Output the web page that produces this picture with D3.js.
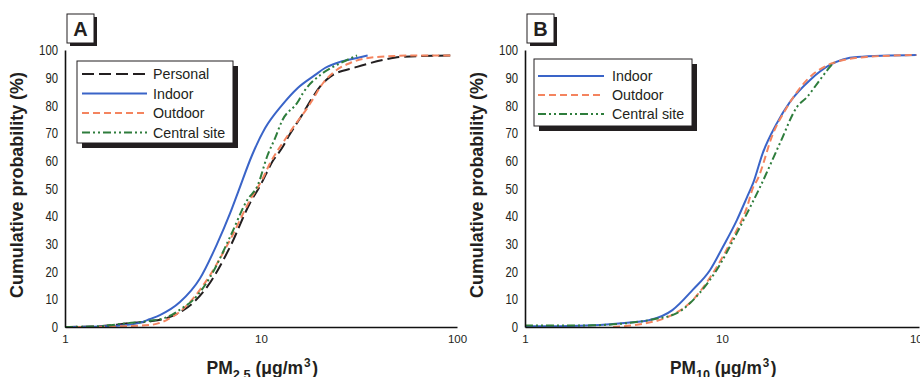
<!DOCTYPE html>
<html><head><meta charset="utf-8">
<script src="https://cdn.jsdelivr.net/npm/d3@7"></script>
<style>
body{margin:0;background:#fff;}
svg{display:block;}
text{font-family:"Liberation Sans",Arial,sans-serif;}
</style></head>
<body><svg id="chart" width="920" height="377"></svg>
<script>
// ---- Data ----
const yTicks = [0,10,20,30,40,50,60,70,80,90,100];
const xTicks = [1,10,100];

// Panel A: PM2.5
const personalA_x = [1,1.5,2.15,2.7,3.3,4.0,4.5,5.3,6.95,8.79,9.9,11.5,12.8,14,16.2,18,20.4,22.5,30.9,41.9,51,95];
const personalA_y = [0,0.3,1.4,2,3.2,6,8.7,14.4,28.9,44.8,51,60,64.6,69.5,76.5,82,87.5,90.3,93.9,96.4,97.5,98];
const indoorA_x = [1,1.5,1.9,2.4,2.7,3.05,3.86,4.88,5.97,6.95,7.64,9.0,10.5,12.8,15.4,18.9,21.2,25.3,30.9,35];
const indoorA_y = [0,0.2,0.5,1.5,2.8,4.3,9,17.5,30,41,48.7,62,71.8,80.1,86.3,91,93.5,95.7,97.1,98];
const outdoorA_x = [1,1.5,2,2.7,3.3,4.0,5.3,6.95,8.79,10.1,11.1,13.5,14.4,17.2,18.3,20.7,24,28.5,39,60,95];
const outdoorA_y = [0,0.1,0.3,0.7,2.5,6.5,17,31.4,45.8,53,59,68.5,71.5,79,82,88,92.5,95.3,97.5,98,98];
const centralA_x = [1,1.5,2.1,2.7,3.3,4.0,4.5,5.5,6.95,8.5,9.6,10.8,11.8,12.8,15.4,16.4,20.7,25,30.9];
const centralA_y = [0,0.3,1.4,2.2,3.5,7,9.7,18,32.5,45.8,51,62,68.2,74.4,81.2,84.5,91.7,95,98];

// Panel B: PM10
const indoorB_x = [1,1.5,2.4,3.3,4.3,5.6,7.1,8.7,10.1,11.9,13.4,14.4,16.1,19,22.1,28,35.3,48.4,97];
const indoorB_y = [0.3,0.3,0.7,1.5,2.5,6.1,13.4,20.6,28.9,38.6,46.9,52,62.8,73.6,81.2,89.2,94.6,97.5,98.2];
const outdoorB_x = [2.8,4.0,5.3,7.1,9.0,11.4,13.4,14.4,15.1,18.2,21.4,27,36.6,54,97];
const outdoorB_y = [0,1.2,3.6,9.7,19.5,32.5,43.3,50.5,53.1,70,79.4,89.2,95.3,97.5,98.2];
const centralB_x = [1,1.5,2.2,3.3,4.5,5.9,7.7,9.4,11.9,13.9,15.6,19.7,24,27,31.4,35.3,37];
const centralB_y = [0.5,0.5,0.6,1.4,2.8,5,12.3,20.6,33.9,43.3,50.5,66.4,79.4,83,89.2,93.9,95.5];

const styles = {
  Personal: {color:"#231f20", dash:"12,5"},
  Indoor: {color:"#3a64c8", dash:null},
  Outdoor: {color:"#f4845f", dash:"7,4"},
  "Central site": {color:"#2e7d3c", dash:"8,3,2,3,2,3"}
};

const panels = [
  {label:"A", x0:65, x1:457, series:[
    ["Personal", personalA_x, personalA_y],
    ["Indoor", indoorA_x, indoorA_y],
    ["Outdoor", outdoorA_x, outdoorA_y],
    ["Central site", centralA_x, centralA_y]],
   sub:"2.5", titleW:109, legend:{x:77,y:61,w:156,h:82,lx0:82,lx1:147,tx:153,ty0:74,dy:19.5}},
  {label:"B", x0:525, x1:919, series:[
    ["Indoor", indoorB_x, indoorB_y],
    ["Outdoor", outdoorB_x, outdoorB_y],
    ["Central site", centralB_x, centralB_y]],
   sub:"10", titleW:104, legend:{x:534,y:59,w:158,h:67,lx0:538,lx1:604,tx:612,ty0:76,dy:19}}
];

function squeeze(sel, f){
  sel.each(function(){
    const w = this.getComputedTextLength();
    d3.select(this).attr("textLength", w*f).attr("lengthAdjust","spacingAndGlyphs");
  });
}

const svg = d3.select("#chart");
const yTop = 50, yBot = 327;

panels.forEach(P => {
  const x = d3.scaleLog().domain([1,100]).range([P.x0,P.x1]);
  const y = d3.scaleLinear().domain([0,100]).range([yBot,yTop]);
  const g = svg.append("g");

  // curves
  const line = d3.line().x(d=>x(d[0])).y(d=>y(d[1])).curve(d3.curveMonotoneX);
  P.series.forEach(([name,xs,ys]) => {
    const st = styles[name];
    g.append("path").datum(xs.map((v,i)=>[v,ys[i]]))
      .attr("d", line).attr("fill","none")
      .attr("stroke", st.color).attr("stroke-width", 2)
      .attr("stroke-dasharray", st.dash);
  });

  // axes
  const ya = g.append("g").attr("transform",`translate(${P.x0},0)`)
    .call(d3.axisLeft(y).tickValues(yTicks).tickSize(0).tickPadding(7));
  ya.attr("font-family",null);
  ya.select(".domain").attr("stroke","#111").attr("stroke-width",1.6);
  ya.selectAll("text").attr("font-size",14.5).attr("fill","#231f20");
  squeeze(ya.selectAll("text"), 0.78);
  const xa = g.append("g").attr("transform",`translate(0,${yBot})`)
    .call(d3.axisBottom(x).tickValues(xTicks).tickFormat(d3.format("d")).tickSize(0).tickPadding(8));
  xa.attr("font-family",null);
  xa.select(".domain").attr("stroke","#111").attr("stroke-width",1.6);
  xa.selectAll("text").attr("font-size",11.5).attr("fill","#231f20");

  // y title
  g.append("text")
    .attr("transform",`translate(${P.x0-42},185) rotate(-90)`)
    .attr("text-anchor","middle").attr("font-weight","bold").attr("font-size",18)
    .attr("textLength",226).attr("lengthAdjust","spacingAndGlyphs")
    .attr("fill","#231f20").text("Cumulative probability (%)");

  // x title
  const xt = g.append("text")
    .attr("x",(P.x0+P.x1)/2 - P.titleW/2).attr("y",374)
    .attr("font-weight","bold").attr("font-size",18.5).attr("fill","#231f20");
  xt.append("tspan").text("PM");
  xt.append("tspan").attr("dy",5).attr("font-size",13.5).text(P.sub);
  xt.append("tspan").attr("dy",-5).text(" (\u03bcg/m");
  xt.append("tspan").attr("dy",-7).attr("dx",1).attr("font-size",12.5).text("3");
  xt.append("tspan").attr("dy",7).attr("dx",1.5).text(")");
  const wNat = xt.node().getComputedTextLength();
  xt.selectAll("tspan").each(function(){
    const w = this.getComputedTextLength();
    d3.select(this).attr("textLength", w*P.titleW/wNat).attr("lengthAdjust","spacingAndGlyphs");
  });

  // panel label box
  const bx = P.x0+2, by = 14;
  g.append("rect").attr("x",bx+3).attr("y",by+3).attr("width",27).attr("height",29).attr("fill","#231f20");
  g.append("rect").attr("x",bx).attr("y",by).attr("width",27).attr("height",29).attr("fill","#fff").attr("stroke","#231f20").attr("stroke-width",1);
  g.append("text").attr("x",bx+13.5).attr("y",by+22).attr("text-anchor","middle")
    .attr("font-weight","bold").attr("font-size",20).attr("fill","#231f20").text(P.label);

  // legend
  const L = P.legend;
  g.append("rect").attr("x",L.x+5).attr("y",L.y+5).attr("width",L.w).attr("height",L.h).attr("fill","#231f20");
  g.append("rect").attr("x",L.x).attr("y",L.y).attr("width",L.w).attr("height",L.h).attr("fill","#fff").attr("stroke","#231f20").attr("stroke-width",1);
  P.series.forEach(([name],i) => {
    const st = styles[name];
    const ly = L.ty0 + i*L.dy;
    g.append("line").attr("x1",L.lx0).attr("x2",L.lx1).attr("y1",ly).attr("y2",ly)
      .attr("stroke",st.color).attr("stroke-width",2).attr("stroke-dasharray",st.dash);
    const t = g.append("text").attr("x",L.tx).attr("y",ly+5).attr("font-size",15)
      .attr("fill","#231f20").text(name);
    squeeze(t, 0.95);
  });
});
</script></body></html>
